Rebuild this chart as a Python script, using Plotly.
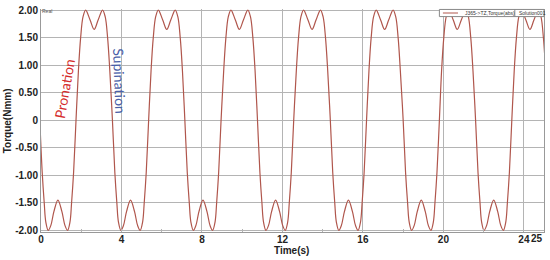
import plotly.graph_objects as go

# Values
# centres of the negative (pronation) and positive (supination) lobes, seconds
NEG_CENTRES = [0.84, 4.45, 8.05, 11.66, 15.28, 18.90, 22.50]
POS_CENTRES = [2.64, 6.25, 9.86, 13.47, 17.08, 20.69, 24.30]

# lobe profile: time offset from the lobe centre and torque there
NEG_OFFSETS = [-0.90, -0.78, -0.68, -0.60, -0.48, -0.35, -0.20, 0.0, 0.20, 0.35, 0.48, 0.60, 0.68, 0.78, 0.90]
NEG_TORQUE = [0.0, -0.95, -1.50, -1.85, -2.00, -1.91, -1.66, -1.45, -1.66, -1.91, -2.00, -1.85, -1.50, -0.95, 0.0]
POS_OFFSETS = [-0.78, -0.67, -0.55, -0.42, -0.20, 0.0, 0.20, 0.42, 0.55, 0.67, 0.78]
POS_TORQUE = [0.90, 1.50, 1.88, 2.00, 1.82, 1.65, 1.82, 2.00, 1.88, 1.50, 0.90]

X_TICKS = [0, 4, 8, 12, 16, 20, 24, 25]
X_MINOR = [2, 6, 10, 14, 18, 22]
Y_TICKS = [-2.0, -1.5, -1.0, -0.5, 0, 0.5, 1.0, 1.5, 2.0]
Y_LABELS = ["-2.00", "-1.50", "-1.00", "-0.50", "0", "0.50", "1.00", "1.50", "2.00"]

LINE = "#b0564c"
GRID = "#b4b4b4"
TEXT = "#222222"

# build the time series lobe by lobe
time, torque = [], []
for n_c, p_c in zip(NEG_CENTRES, POS_CENTRES):
    time += [n_c + o for o in NEG_OFFSETS]
    torque += NEG_TORQUE
    time += [p_c + o for o in POS_OFFSETS]
    torque += POS_TORQUE

fig = go.Figure()
fig.add_trace(
    go.Scatter(
        x=time,
        y=torque,
        mode="lines",
        line=dict(color=LINE, width=1.2, shape="spline", smoothing=1.0),
        showlegend=False,
    )
)

tick_font = dict(family="Liberation Sans", size=10, color=TEXT, weight="bold")

fig.update_layout(
    width=550,
    height=260,
    margin=dict(l=41, r=5, t=6, b=28),
    paper_bgcolor="white",
    plot_bgcolor="white",
    font=dict(family="Liberation Sans", color=TEXT),
    xaxis=dict(
        range=[0, 25],
        tickvals=X_TICKS,
        ticktext=[str(v) for v in X_TICKS[:-1]] + [""],
        tickfont=tick_font,
        ticks="inside",
        ticklen=3,
        tickcolor=GRID,
        ticklabelstandoff=-2,
        showgrid=True,
        gridcolor=GRID,
        gridwidth=1,
        zeroline=False,
        showline=True,
        linecolor="#999999",
        minor=dict(tickvals=X_MINOR, ticks="inside", ticklen=3, tickcolor=GRID, showgrid=False),
        fixedrange=True,
    ),
    yaxis=dict(
        range=[-2.03, 2.02],
        tickvals=Y_TICKS,
        ticktext=Y_LABELS,
        tickfont=tick_font,
        ticks="",
        showgrid=True,
        gridcolor=GRID,
        gridwidth=1,
        zeroline=False,
        showline=True,
        mirror=True,
        linecolor="#999999",
        fixedrange=True,
    ),
    annotations=[
        dict(text="Time(s)", xref="paper", yref="paper", x=0.498, y=-0.083,
             showarrow=False, xanchor="center", yanchor="middle", font=tick_font),
        dict(text="Torque(Nmm)", xref="paper", yref="paper", x=-0.066, y=0.5,
             showarrow=False, textangle=-90, xanchor="center", yanchor="middle", font=tick_font),
        dict(text="25", xref="x", yref="paper", x=25, y=-0.03, xshift=1,
             showarrow=False, xanchor="right", yanchor="middle", font=tick_font),
        dict(text="Real", xref="paper", yref="paper", x=-0.002, y=0.993,
             showarrow=False, xanchor="left", yanchor="middle",
             font=dict(family="Liberation Sans", size=5, color="#555555")),
        dict(text="Pronation", x=1.16, y=0.58, showarrow=False, textangle=-80,
             font=dict(family="Lato", size=14, color="#d42a2a")),
        dict(text="Supination", x=3.9, y=0.7, showarrow=False, textangle=88,
             font=dict(family="Lato", size=14, color="#4a5fa8")),
        # hand-drawn legend text
        dict(text="J365->TZ,Torque(abs)", xref="paper", yref="paper", x=0.838, y=0.982,
             showarrow=False, xanchor="left", yanchor="middle",
             font=dict(family="Liberation Sans", size=5, color="#333333")),
        dict(text="Solution001", xref="paper", yref="paper", x=0.946, y=0.982,
             showarrow=False, xanchor="left", yanchor="middle",
             font=dict(family="Liberation Sans", size=5, color="#333333")),
    ],
    shapes=[
        dict(type="rect", xref="paper", yref="paper", x0=0.792, x1=1.0, y0=0.966, y1=0.998,
             line=dict(color="#888888", width=1), fillcolor="white", layer="above"),
        dict(type="line", xref="paper", yref="paper", x0=0.799, x1=0.829, y0=0.982, y1=0.982,
             line=dict(color=LINE, width=1), layer="above"),
        dict(type="line", xref="paper", yref="paper", x0=0.942, x1=0.942, y0=0.966, y1=0.998,
             line=dict(color="#888888", width=1), layer="above"),
    ],
)

# drop the browser's default body margin so the figure sits at the window's corner
fig.write_html(
    "out.html",
    config={"displayModeBar": False},
    post_script="document.body.style.margin='0';",
)
